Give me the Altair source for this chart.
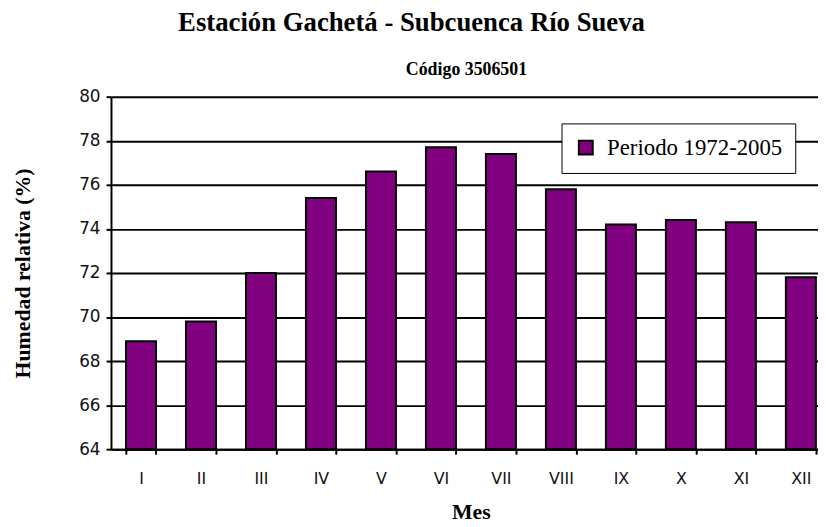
import altair as alt
import pandas as pd

meses = ["I", "II", "III", "IV", "V", "VI", "VII", "VIII", "IX", "X", "XI", "XII"]
humedad = [68.9, 69.8, 72.0, 75.4, 76.6, 77.7, 77.4, 75.8, 74.2, 74.4, 74.3, 71.8]
serie = "Periodo 1972-2005"
y_ticks = [64, 66, 68, 70, 72, 74, 76, 78, 80]
y_base = 64

df = pd.DataFrame({"Mes": meses, "Humedad": humedad, "Serie": [serie] * len(meses)})

SERIF = "Liberation Serif"
SANS = "DejaVu Sans"

bars = alt.Chart(df).mark_bar(stroke="black", strokeWidth=2).encode(
    x=alt.X("Mes:N", sort=meses,
            scale=alt.Scale(paddingInner=0.5, paddingOuter=0.25),
            axis=alt.Axis(title="Mes", labelAngle=0, tickBand="extent", tickSize=5,
                          labelPadding=17, titlePadding=15, grid=False)),
    y=alt.Y("Humedad:Q", scale=alt.Scale(domain=[64, 80], zero=False, nice=False),
            axis=alt.Axis(title="Humedad relativa (%)", values=y_ticks, tickSize=5,
                          labelPadding=6, titlePadding=45, grid=True)),
    y2=alt.datum(y_base),
    color=alt.Color("Serie:N", scale=alt.Scale(range=["#800080"]),
                    legend=alt.Legend(title=None, orient="none", legendX=455, legendY=27,
                                      symbolType="square", symbolSize=196,
                                      symbolStrokeColor="black", symbolStrokeWidth=2,
                                      symbolOpacity=1, labelFont=SERIF, labelFontSize=23,
                                      labelColor="black", labelOffset=10, labelLimit=400,
                                      padding=13, strokeColor="black", fillColor="white",
                                      cornerRadius=0)),
)

sub = alt.Chart(pd.DataFrame({"t": ["Código 3506501"]})).mark_text(
    font=SERIF, fontSize=18, fontWeight="bold", color="black", baseline="alphabetic",
    align="center"
).encode(text="t:N", x=alt.value(359), y=alt.value(-22))

chart = alt.layer(bars, sub).properties(
    width=727, height=356,
    autosize=alt.AutoSizeParams(type="none"),
    padding={"left": 104, "top": 87, "right": -13, "bottom": 76},
    title=alt.TitleParams("Estación Gachetá - Subcuenca Río Sueva", font=SERIF, fontSize=27,
                          fontWeight="bold", color="black", anchor="middle", dx=-60, offset=24),
).configure_view(stroke=None).configure_axis(
    domainColor="black", domainWidth=2, tickColor="black", tickWidth=2,
    gridColor="black", gridWidth=2, gridOpacity=1,
    labelFont=SANS, labelFontSize=16, labelColor="#111",
    titleFont=SERIF, titleFontSize=22, titleFontWeight="bold", titleColor="black",
).configure_axisY(labelFontSize=17)

chart.save("out.html", embed_options={"renderer": "svg", "actions": False})
